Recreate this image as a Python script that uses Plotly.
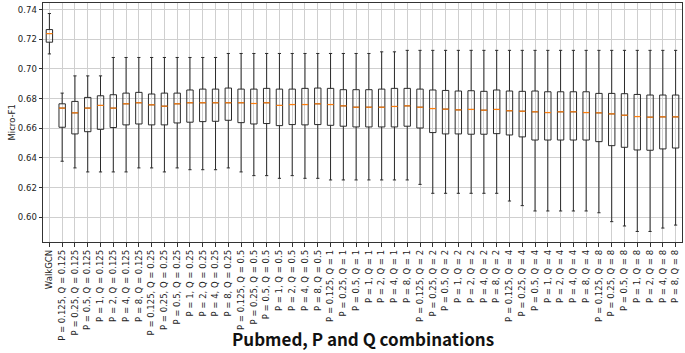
import plotly.graph_objects as go
import numpy as np

p_values = ["0.125", "0.25", "0.5", "1", "2", "4", "8"]
q_values = ["0.125", "0.25", "0.5", "1", "2", "4", "8"]
categories = ["WalkGCN"] + [f"P = {p}, Q = {q}" for q in q_values for p in p_values]

upper_fence = [0.7373, 0.6837, 0.6953, 0.6953, 0.6953,
               0.7077, 0.7077, 0.7077, 0.7077, 0.7077, 0.7077, 0.7077, 0.7077, 0.7077,
               0.7104, 0.7104, 0.7104, 0.7104, 0.7104, 0.7104, 0.7104, 0.7104, 0.7104,
               0.7104, 0.7104, 0.7104, 0.7115, 0.7115,
               0.7125, 0.7125, 0.7125, 0.7125, 0.7125, 0.7125, 0.7125, 0.7125, 0.7125,
               0.7125, 0.7125, 0.7125, 0.7125, 0.7125, 0.7125, 0.7125, 0.7125, 0.7125,
               0.7125, 0.7125, 0.7125, 0.7125]
q3 = [0.7265, 0.6765, 0.6781, 0.6808, 0.6819, 0.6826, 0.6837, 0.6842, 0.6831, 0.6837,
      0.6837, 0.6858, 0.6864, 0.6864, 0.6871, 0.6864, 0.6864, 0.6869, 0.6864, 0.6864,
      0.6869, 0.6871, 0.6869, 0.6860, 0.6860, 0.6860, 0.6864, 0.6869, 0.6869, 0.6864,
      0.6858, 0.6855, 0.6851, 0.6853, 0.6849, 0.6858, 0.6851, 0.6849, 0.6851, 0.6846,
      0.6846, 0.6846, 0.6846, 0.6835, 0.6835, 0.6833, 0.6828, 0.6824, 0.6824, 0.6824]
median = [0.7238, 0.6736, 0.6704, 0.6736, 0.6754, 0.6736, 0.6765, 0.6772, 0.6758, 0.6749,
          0.6765, 0.6772, 0.6772, 0.6772, 0.6772, 0.6772, 0.6767, 0.6772, 0.6754, 0.6760,
          0.6760, 0.6765, 0.6760, 0.6751, 0.6742, 0.6742, 0.6742, 0.6747, 0.6751, 0.6742,
          0.6733, 0.6729, 0.6724, 0.6727, 0.6722, 0.6727, 0.6718, 0.6715, 0.6711, 0.6706,
          0.6711, 0.6711, 0.6706, 0.6704, 0.6697, 0.6688, 0.6679, 0.6675, 0.6677, 0.6677]
q1 = [0.7180, 0.6607, 0.6562, 0.6577, 0.6593, 0.6605, 0.6623, 0.6629, 0.6623, 0.6623,
      0.6636, 0.6641, 0.6645, 0.6647, 0.6654, 0.6638, 0.6629, 0.6632, 0.6618, 0.6625,
      0.6623, 0.6625, 0.6620, 0.6614, 0.6609, 0.6609, 0.6609, 0.6609, 0.6614, 0.6602,
      0.6571, 0.6562, 0.6562, 0.6560, 0.6560, 0.6564, 0.6555, 0.6542, 0.6521, 0.6521,
      0.6521, 0.6521, 0.6521, 0.6510, 0.6483, 0.6472, 0.6454, 0.6452, 0.6461, 0.6467]
lower_fence = [0.7101, 0.6378, 0.6333, 0.6306, 0.6306, 0.6306, 0.6306, 0.6333, 0.6333, 0.6306,
               0.6333, 0.6321, 0.6321, 0.6321, 0.6333, 0.6306, 0.6281, 0.6281, 0.6263, 0.6281,
               0.6263, 0.6263, 0.6252, 0.6252, 0.6252, 0.6252, 0.6252, 0.6252, 0.6252, 0.6222,
               0.6162, 0.6162, 0.6162, 0.6162, 0.6162, 0.6162, 0.6110, 0.6079, 0.6043, 0.6043,
               0.6043, 0.6043, 0.6043, 0.6031, 0.5971, 0.5942, 0.5905, 0.5905, 0.5928, 0.5948]
y_ticks = [0.60, 0.62, 0.64, 0.66, 0.68, 0.70, 0.72, 0.74]

pos = list(range(len(categories)))
box_w = 0.5

fig = go.Figure()
fig.add_trace(go.Box(
    x=pos, q1=q1, median=median, q3=q3,
    lowerfence=lower_fence, upperfence=upper_fence,
    width=box_w, whiskerwidth=0.5,
    line=dict(color="#2b2b2b", width=1),
    fillcolor="rgba(0,0,0,0)",
    boxpoints=False, showlegend=False, hoverinfo="skip",
))

mx, my = [], []
for i, m in zip(pos, median):
    mx += [i - box_w / 2, i + box_w / 2, None]
    my += [m, m, None]
fig.add_trace(go.Scatter(x=mx, y=my, mode="lines",
                         line=dict(color="#ff7f0e", width=1.2),
                         showlegend=False, hoverinfo="skip"))

tick_font = dict(family="DejaVu Sans", size=8.5, color="#222")
fig.update_layout(
    width=685, height=353,
    margin=dict(l=43, r=3, t=3, b=111),
    paper_bgcolor="white", plot_bgcolor="white",
    xaxis=dict(
        range=[-0.5, len(categories) - 0.5],
        tickmode="array", tickvals=pos, ticktext=categories,
        tickangle=-90, tickfont=tick_font, automargin=False,
        showgrid=True, gridcolor="#cfcfcf", gridwidth=1,
        ticks="outside", ticklen=3.5, tickcolor="#333",
        showline=True, linecolor="#333", linewidth=1, mirror=True,
        zeroline=False,
    ),
    yaxis=dict(
        range=[0.5834, 0.7444],
        tickmode="array", tickvals=y_ticks,
        ticktext=[f"{v:.2f}" for v in y_ticks],
        tickfont=tick_font, automargin=False,
        showgrid=True, gridcolor="#cfcfcf", gridwidth=1,
        ticks="outside", ticklen=3.5, tickcolor="#333",
        showline=True, linecolor="#333", linewidth=1, mirror=True,
        zeroline=False,
    ),
    annotations=[
        dict(text="Micro-F1", xref="paper", yref="paper",
             x=-0.05, y=0.5, textangle=-90, showarrow=False,
             xanchor="center", yanchor="middle",
             font=dict(family="DejaVu Sans", size=8.5, color="#222")),
        dict(text="<b>Pubmed, P and Q combinations</b>", xref="paper", yref="paper",
             x=0.5, y=-0.4017, showarrow=False,
             xanchor="center", yanchor="middle",
             font=dict(family="Noto Sans CJK KR", size=17, color="#111")),
    ],
)

fig.write_html("out.html", config={"displayModeBar": False},
               post_script="document.body.style.margin='0px';document.body.style.overflow='hidden';")
